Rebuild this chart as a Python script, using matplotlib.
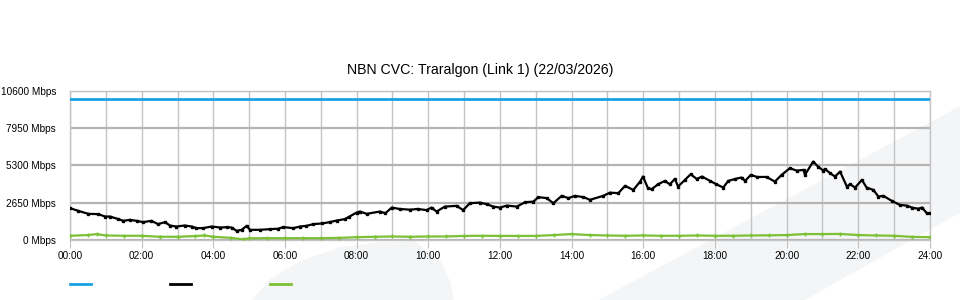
import matplotlib
matplotlib.use('Agg')
import matplotlib.pyplot as plt
from matplotlib.patches import Polygon
from matplotlib.lines import Line2D

plt.rcParams['font.family'] = ['Liberation Sans', 'DejaVu Sans']

# valores (horas, Mbps)
capacity = 10000

black_h = [0.0, 0.23, 0.51, 0.79, 0.98, 1.12, 1.35, 1.49, 1.67, 1.86, 2.04, 2.27, 2.46, 2.65,
           2.79, 2.97, 3.2, 3.4, 3.53, 3.72, 3.95, 4.19, 4.37, 4.51, 4.65, 4.79, 4.93, 5.02,
           5.3, 5.58, 5.81, 5.95, 6.23, 6.42, 6.6, 6.79, 7.02, 7.25, 7.44, 7.67, 7.8, 8.0,
           8.09, 8.28, 8.65, 8.8, 8.98, 9.2, 9.49, 9.7, 9.95, 10.09, 10.23, 10.46, 10.79,
           10.97, 11.16, 11.44, 11.63, 11.81, 12.0, 12.19, 12.47, 12.7, 12.93, 13.07, 13.3,
           13.49, 13.72, 13.91, 14.09, 14.33, 14.51, 14.88, 15.07, 15.3, 15.49, 15.72, 15.91,
           15.99, 16.13, 16.23, 16.41, 16.6, 16.74, 16.88, 16.97, 17.16, 17.32, 17.49, 17.64,
           17.86, 18.04, 18.23, 18.37, 18.56, 18.74, 18.84, 19.0, 19.17, 19.44, 19.67, 19.86,
           20.09, 20.28, 20.47, 20.51, 20.74, 20.88, 21.02, 21.07, 21.21, 21.35, 21.49, 21.68,
           21.77, 21.91, 22.1, 22.23, 22.42, 22.56, 22.7, 22.93, 23.16, 23.35, 23.49, 23.67,
           23.78, 23.91, 24.0]
black_v = [2258, 2067, 1855, 1834, 1664, 1664, 1480, 1359, 1430, 1359, 1267, 1359, 1125, 1267,
           1027, 956, 1027, 956, 842, 842, 956, 885, 907, 885, 650, 722, 1005, 722,
           722, 770, 800, 913, 842, 956, 1005, 1125, 1170, 1267, 1380, 1480, 1664, 1947,
           2018, 1855, 2018, 1900, 2300, 2200, 2150, 2200, 2120, 2300, 2018, 2370, 2420,
           2120, 2610, 2650, 2540, 2370, 2300, 2440, 2370, 2680, 2720, 3040, 2970,
           2610, 3130, 2970, 3130, 3040, 2850, 3130, 3360, 3320, 3840, 3550, 4140,
           4500, 3670, 3600, 3950, 4190, 3950, 4330, 3790, 4260, 4660, 4330, 4500,
           4190, 3950, 3720, 4190, 4330, 4430, 4190, 4620, 4470, 4470, 4140, 4620,
           5090, 4920, 4970, 4620, 5560, 5200, 4920, 5040, 4740, 4500, 4850, 3790,
           3950, 3720, 4260, 3720, 3550, 3080, 3130, 2780, 2490, 2440, 2300, 2220,
           2300, 1900, 1900]

green_h = [0, 0.5, 0.75, 1, 1.5, 2, 2.5, 3, 3.5, 3.75, 4, 4.5, 4.83, 5, 5.5, 6, 6.5, 7, 7.5,
           8, 8.5, 9, 9.5, 10, 10.5, 11, 11.5, 12, 12.5, 13, 13.5, 14, 14.5, 15, 15.5, 16,
           16.5, 17, 17.5, 18, 18.5, 19, 19.5, 20, 20.5, 21, 21.5, 22, 22.5, 23, 23.5, 24]
green_v = [300, 350, 420, 320, 300, 300, 230, 230, 280, 320, 230, 150, 50, 120, 130, 130, 130,
           130, 150, 200, 230, 250, 230, 250, 250, 290, 300, 290, 290, 290, 350, 420, 350,
           320, 300, 320, 300, 300, 320, 300, 300, 320, 330, 350, 420, 420, 430, 350, 320,
           300, 220, 200]

yticks = [0, 2650, 5300, 7950, 10600]
ylabels = ['0 Mbps', '2650 Mbps', '5300 Mbps', '7950 Mbps', '10600 Mbps']
xticks = list(range(0, 25, 2))
xlabels = ['%02d:00' % h for h in xticks]

fig = plt.figure(figsize=(9.6, 3.0), dpi=100)

# marca d'água ao fundo
def px(pts):
    return [(x / 960, 1 - y / 300) for x, y in pts]

fig.patches.append(Polygon(px([(253, 300), (270, 280), (300, 262), (340, 248), (380, 243),
                               (415, 242), (440, 262), (450, 283), (453, 300)]),
                           closed=True, transform=fig.transFigure, color='#f4f5f7', zorder=-10))
fig.patches.append(Polygon(px([(600, 300), (960, 107), (960, 212), (803, 300)]),
                           closed=True, transform=fig.transFigure, color='#f4f5f7', zorder=-10))

ax = fig.add_axes([70 / 960, 0.2, 860 / 960, 0.4983])
ax.set_facecolor('none')
ax.set_zorder(1)

ax.axhline(capacity, color='#1ba1e2', lw=2, zorder=3)
ax.plot(black_h, black_v, color='black', lw=1.6, marker='s', ms=1.6, zorder=4)
ax.plot(green_h, green_v, color='#7cc035', lw=1.6, marker='+', ms=2.5, zorder=3)

ax.set_xlim(0, 24)
ax.set_ylim(0, 10600)
ax.set_yticks(yticks)
ax.set_yticklabels(ylabels)
ax.set_xticks(xticks)
ax.set_xticklabels(xlabels)

for h in range(25):
    ax.axvline(h, color='#c4c4c4', lw=1, zorder=1)
for v in yticks:
    ax.axhline(v, color='#b4b4b4', lw=1.6, zorder=1)

ax.tick_params(axis='y', length=0, pad=10, labelsize=7.2)
ax.tick_params(axis='x', length=6, color='#c0c0c0', pad=2, labelsize=7.2)
for s in ax.spines.values():
    s.set_color('#c4c4c4')
    s.set_linewidth(1)

fig.text(0.5, 1 - 70 / 300, 'NBN CVC: Traralgon (Link 1) (22/03/2026)',
         ha='center', va='center', fontsize=10.2)

handles = [Line2D([], [], color='#1ba1e2', lw=2),
           Line2D([], [], color='black', lw=2),
           Line2D([], [], color='#7cc035', lw=2)]
fig.legend(handles, ['', '', ''], loc='center left', bbox_to_anchor=(70 / 960, 1 - 285 / 300),
           ncol=3, frameon=False, handlelength=2.0, handletextpad=0, columnspacing=7.6,
           borderpad=0, borderaxespad=0, fontsize=7.5)

fig.savefig('out.png', dpi=100)
